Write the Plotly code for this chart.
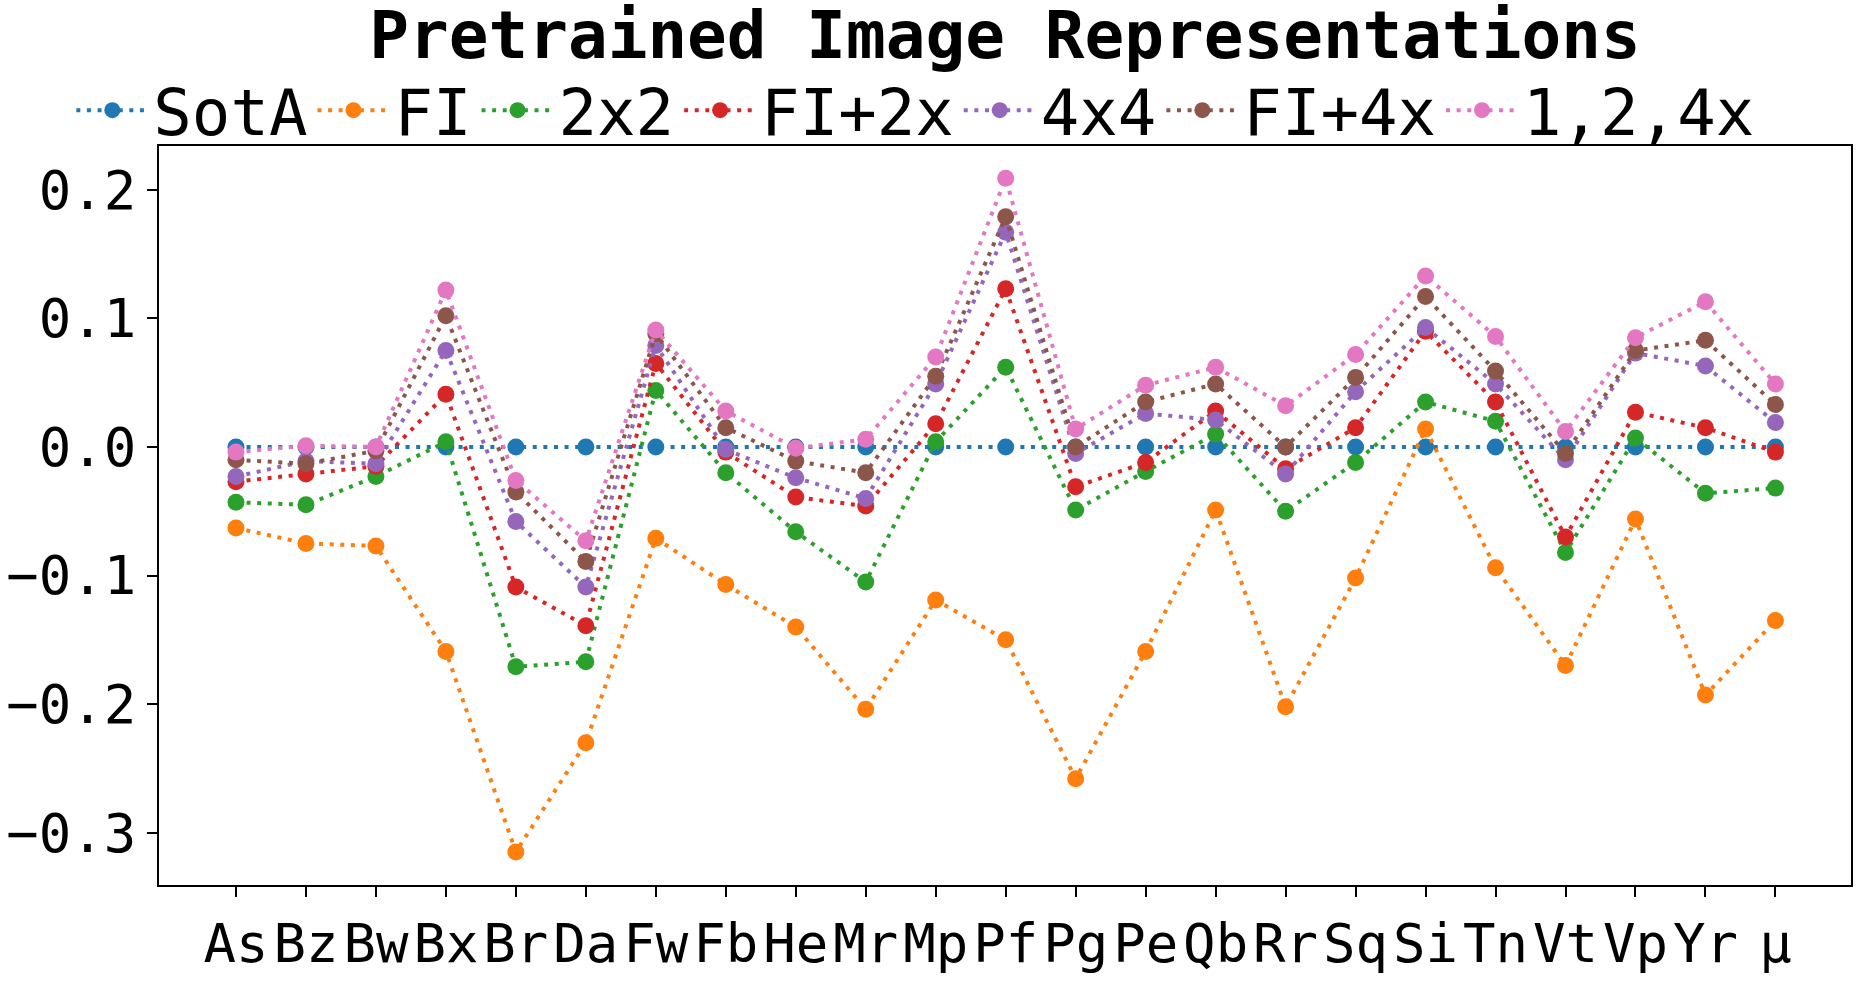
import plotly.graph_objects as go

categories = ["As", "Bz", "Bw", "Bx", "Br", "Da", "Fw", "Fb", "He", "Mr", "Mp", "Pf",
              "Pg", "Pe", "Qb", "Rr", "Sq", "Si", "Tn", "Vt", "Vp", "Yr", "μ"]

sota = [0.0] * 23
fi = [-0.063, -0.075, -0.077, -0.159, -0.315, -0.230, -0.071, -0.107, -0.140, -0.204, -0.119, -0.150,
      -0.258, -0.159, -0.049, -0.202, -0.102, 0.014, -0.094, -0.170, -0.056, -0.193, -0.135]
g2x2 = [-0.043, -0.045, -0.023, 0.004, -0.171, -0.167, 0.044, -0.020, -0.066, -0.105, 0.004, 0.062,
        -0.049, -0.019, 0.010, -0.050, -0.012, 0.035, 0.020, -0.082, 0.007, -0.036, -0.032]
fi_2x = [-0.027, -0.021, -0.015, 0.041, -0.109, -0.139, 0.065, -0.004, -0.039, -0.046, 0.018, 0.123,
         -0.031, -0.012, 0.028, -0.017, 0.015, 0.090, 0.035, -0.070, 0.027, 0.015, -0.004]
g4x4 = [-0.023, -0.011, -0.013, 0.075, -0.058, -0.109, 0.079, -0.002, -0.024, -0.040, 0.049, 0.167,
        -0.005, 0.026, 0.021, -0.021, 0.043, 0.093, 0.049, -0.010, 0.073, 0.063, 0.019]
fi_4x = [-0.010, -0.013, -0.003, 0.102, -0.035, -0.089, 0.088, 0.015, -0.011, -0.020, 0.055, 0.179,
         0.000, 0.035, 0.049, 0.000, 0.054, 0.117, 0.059, -0.005, 0.075, 0.083, 0.033]
multi = [-0.004, 0.001, 0.000, 0.122, -0.026, -0.073, 0.091, 0.028, -0.001, 0.006, 0.070, 0.209,
         0.014, 0.048, 0.062, 0.032, 0.072, 0.133, 0.086, 0.012, 0.085, 0.113, 0.049]

series = [
    ("SotA", sota, "#1f77b4"),
    ("FI", fi, "#ff7f0e"),
    ("2x2", g2x2, "#2ca02c"),
    ("FI+2x", fi_2x, "#d62728"),
    ("4x4", g4x4, "#9467bd"),
    ("FI+4x", fi_4x, "#8c564b"),
    ("1,2,4x", multi, "#e377c2"),
]

FONT = "DejaVu Sans Mono"
x_idx = list(range(len(categories)))

fig = go.Figure()
for name, vals, col in series:
    fig.add_trace(go.Scatter(
        x=x_idx, y=vals, name=name, mode="lines+markers",
        line=dict(color=col, width=4, dash="4px,6.6px"),
        marker=dict(color=col, size=17),
    ))

fig.update_layout(
    width=1859, height=981,
    margin=dict(l=158, r=6, t=146, b=82),
    plot_bgcolor="white", paper_bgcolor="white",
    font=dict(family=FONT, color="black"),
    title=dict(text="Pretrained Image Representations", x=0.5, xref="paper",
               y=1 - 35 / 981, yref="container", yanchor="middle", xanchor="center",
               font=dict(family=FONT, size=66, weight="bold", color="black")),
    legend=dict(orientation="h", x=0.447, xanchor="center",
                y=1.048, yanchor="middle",
                font=dict(family=FONT, size=64), itemwidth=72,
                bgcolor="rgba(0,0,0,0)"),
    showlegend=True,
)
fig.update_xaxes(
    range=[-1.1, 23.08], tickmode="array", tickvals=x_idx, ticktext=categories,
    showgrid=False, zeroline=False, showline=True, linecolor="black", linewidth=2, mirror=True,
    ticks="outside", ticklen=10, tickwidth=2, tickcolor="black",
    tickfont=dict(family=FONT, size=54),
)
fig.update_yaxes(
    range=[-0.3407, 0.2341], tickmode="array", tickvals=[-0.3, -0.2, -0.1, 0.0, 0.1, 0.2],
    tickformat=".1f",
    showgrid=False, zeroline=False, showline=True, linecolor="black", linewidth=2, mirror=True,
    ticks="outside", ticklen=10, tickwidth=2, tickcolor="black",
    tickfont=dict(family=FONT, size=54),
)

fig.write_html("out.html", config={"displayModeBar": False},
               post_script="document.body.style.margin='0';")
